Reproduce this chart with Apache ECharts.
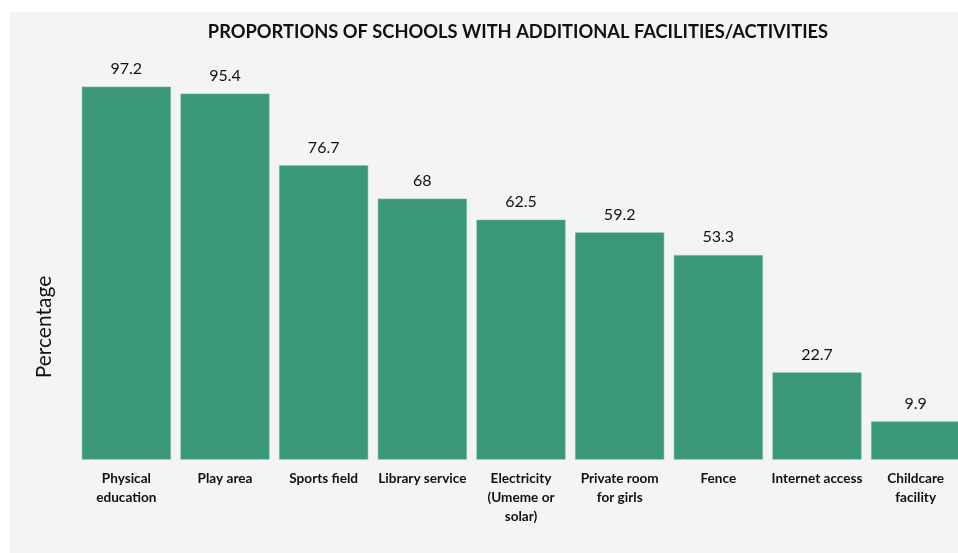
<!DOCTYPE html>
<html>
<head>
<meta charset="utf-8">
<script src="https://cdn.jsdelivr.net/npm/echarts@6/dist/echarts.min.js"></script>
<style>
  html, body { margin: 0; padding: 0; background: #ffffff; overflow: hidden; }
  #chart { width: 966px; height: 553px; }
</style>
</head>
<body>
<div id="chart"></div>
<script>
// Facility categories along the x axis
const categories = [
  'Physical\neducation',
  'Play area',
  'Sports field',
  'Library service',
  'Electricity\n(Umeme or\nsolar)',
  'Private room\nfor girls',
  'Fence',
  'Internet access',
  'Childcare\nfacility'
];

// Share of schools having each facility (%)
const percentages = [97.2, 95.4, 76.7, 68, 62.5, 59.2, 53.3, 22.7, 9.9];

const chart = echarts.init(document.getElementById('chart'), null, { renderer: 'canvas' });

chart.setOption({
  animation: false,
  backgroundColor: '#ffffff',
  graphic: [{
    type: 'rect',
    z: -10,
    silent: true,
    shape: { x: 10, y: 12, width: 956, height: 541 },
    style: { fill: '#f4f4f4' }
  }, {
    type: 'text',
    x: 44,
    y: 327,
    rotation: Math.PI / 2,
    silent: true,
    style: {
      text: 'Percentage',
      fontFamily: 'Lato',
      fontSize: 21,
      fill: '#111111',
      align: 'center',
      verticalAlign: 'middle'
    }
  }],
  title: {
    text: 'PROPORTIONS OF SCHOOLS WITH ADDITIONAL FACILITIES/ACTIVITIES',
    left: 513,
    top: 18,
    textAlign: 'center',
    textStyle: {
      fontFamily: 'Lato',
      fontWeight: 'bold',
      fontSize: 18.3,
      color: '#111111'
    }
  },
  grid: {
    left: 77,
    right: 1,
    top: 76,
    bottom: 93.5,
    containLabel: false
  },
  xAxis: {
    type: 'category',
    data: categories,
    axisLine: { show: false },
    axisTick: { show: false },
    axisLabel: {
      interval: 0,
      margin: 10,
      fontFamily: 'Lato',
      fontWeight: 'bold',
      fontSize: 13.6,
      lineHeight: 18.7,
      color: '#111111'
    }
  },
  yAxis: {
    type: 'value',
    min: 0,
    max: 100,
    axisLine: { show: false },
    axisTick: { show: false },
    axisLabel: { show: false },
    splitLine: { show: false }
  },
  series: [{
    type: 'bar',
    data: percentages,
    barCategoryGap: '9.8%',
    itemStyle: {
      color: '#3a9878',
      borderColor: '#5fb393',
      borderWidth: 0.6
    },
    label: {
      show: true,
      position: 'top',
      distance: 10,
      fontFamily: 'Lato',
      fontSize: 16,
      color: '#111111'
    }
  }]
});
</script>
</body>
</html>
